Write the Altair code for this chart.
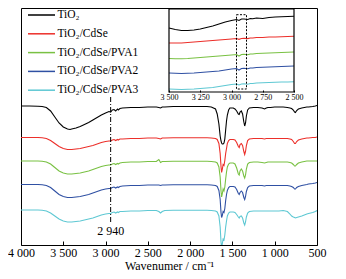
import altair as alt
import pandas as pd

# ---------------- main spectra ----------------
wavenumber = [
    4000, 3900, 3800, 3750, 3700, 3650, 3600, 3550, 3500, 3450,
    3420, 3400, 3350, 3300, 3250, 3200, 3150, 3100, 3050, 3000,
    2960, 2940, 2920, 2900, 2880, 2860, 2850, 2830, 2800, 2700,
    2600, 2500, 2400, 2370, 2350, 2330, 2300, 2200, 2100, 2000,
    1900, 1800, 1750, 1700, 1680, 1660, 1645, 1635, 1628, 1620,
    1610, 1600, 1590, 1580, 1570, 1560, 1545, 1530, 1510, 1490,
    1470, 1450, 1430, 1420, 1410, 1395, 1380, 1365, 1355, 1345,
    1335, 1320, 1300, 1250, 1200, 1150, 1120, 1100, 1080, 1050,
    1000, 950, 900, 850, 820, 800, 780, 765, 755, 740,
    720, 700, 680, 650, 620, 600, 550, 520, 500,
]

series_names = ["TiO₂", "TiO₂/CdSe", "TiO₂/CdSe/PVA1", "TiO₂/CdSe/PVA2", "TiO₂/CdSe/PVA3"]
series_colors = ["#000000", "#ec2f2a", "#79c143", "#2f50a3", "#5ec8d3"]
# vertical display offsets of the stacked spectra
offsets = [139, 107.5, 84, 60.5, 35]

# absorption depth below each spectrum's baseline
depth_tio2 = [
    0, 0, 0.3, 0.5, 1.5, 5, 11, 17, 21, 23,
    23.5, 23, 22, 20.5, 18.5, 16.5, 14, 11.5, 9, 7,
    5.5, 6, 4, 3.5, 5, 3, 4, 2.5, 2, 1.5,
    1.5, 1, 1, 1.5, 2, 1, 1, 0.5, 0.5, 0.5,
    0.5, 0.5, 1, 3, 8, 18, 30, 35, 37, 38,
    38, 37, 33, 24, 15, 9, 4, 2, 2, 2,
    3, 5, 8, 8.5, 6, 5, 8, 16, 20, 17,
    10, 4, 2, 1.5, 1.5, 2, 3, 2, 1.5, 1.5,
    1, 1, 1, 1.5, 2, 2.5, 4, 6, 6.5, 4.5,
    3, 2.5, 2, 1.5, 1, 1, 0.5, 0, -0.5,
]
depth_cdse = [
    0, 0, 0, 0.3, 1, 3, 6, 9, 11, 12,
    12, 12, 11.5, 11, 10, 9, 8, 6.5, 5, 4,
    3.5, 3.5, 2.5, 2, 3, 2, 2.5, 1.5, 1.5, 1,
    1, 0.5, 0.5, 1, 1.5, 0.5, 0.5, 0.3, 0.3, 0.3,
    0.3, 0.3, 0.5, 1, 2, 6, 16, 29, 35, 32,
    27, 28, 23, 16, 11, 6, 3, 2, 2, 2,
    2.5, 5, 9, 10, 7, 6, 8, 14, 17, 14,
    8, 3, 1.5, 1, 1, 1, 1.5, 1, 1, 1,
    1, 1, 1, 1, 1.5, 2, 4, 6, 6, 4,
    2.5, 2, 1.5, 1, 0.5, 0.5, 0, 0, -0.5,
]
depth_pva1 = [
    0, 0, 0, 0.3, 1, 3, 6.5, 10, 12, 13,
    13, 13, 12.5, 12, 11, 10, 8.5, 7, 5.5, 4.5,
    4, 4, 3, 2.5, 3.5, 2.5, 3, 2, 1.5, 1,
    1, 0.5, 0.5, -1.5, 1.5, 0.5, 0.5, 0.3, 0.3, 0.3,
    0.3, 0.3, 0.5, 1, 2, 6, 16, 30, 36, 33,
    28, 30, 26, 18, 11, 6, 3, 2, 2, 2,
    3, 7, 13, 14, 10, 8, 10, 15, 17, 14,
    8, 3, 1.5, 1, 1, 1.5, 2, 1.5, 1, 1,
    1, 1, 1, 1, 1.5, 2, 3.5, 5, 5, 3.5,
    2, 1.5, 1, 0.5, 0, 0, 0, 0, 0,
]
depth_pva2 = [
    0, 0, 0, 0.3, 1, 3, 6.5, 10, 12, 13,
    13, 13, 12.5, 12, 11, 10, 8.5, 7, 5.5, 4.5,
    4, 4, 3, 2.5, 3.5, 2.5, 3, 2, 1.5, 1,
    1, 0.5, 0.5, 0.5, 1, 0.5, 0.5, 0.3, 0.3, 0.3,
    0.3, 0.3, 0.5, 1, 2, 6, 15, 28, 33, 31,
    27, 28, 24, 16, 10, 6, 3, 2, 2, 2,
    2.5, 5, 9, 10, 8, 6.5, 8, 13, 15, 12,
    7, 3, 1.5, 1, 1, 1, 1.5, 1, 1, 1,
    1, 1, 1, 1, 1.5, 2, 3, 4.5, 4.5, 3,
    2, 1.5, 1, 0.5, 0, -0.5, -1, -1.5, -2,
]
depth_pva3 = [
    0, 0, 0, 0.3, 1, 3, 6, 9, 11, 12,
    12, 12, 11.5, 11, 10, 9, 8, 6.5, 5, 4,
    3.5, 3.5, 2.5, 2, 3, 2, 2.5, 1.5, 1.5, 1,
    1, 0.5, 0.5, 1.5, 3, 1.5, 0.5, 0.3, 0.3, 0.3,
    0.3, 0.3, 0.5, 1, 2, 6, 17, 32, 37, 34,
    29, 30, 25, 17, 11, 6, 3, 2, 2, 2,
    2.5, 4.5, 7, 8, 6.5, 6, 8, 13, 15, 12,
    7, 3, 1.5, 1, 1, 1, 1, 1, 1, 1,
    1, 1, 0.5, 1.5, 4, 6, 7, 7.5, 8, 7.5,
    7, 6.5, 6, 5, 4, 3.5, 2.5, 1.5, 0.5,
]
depths = [depth_tio2, depth_cdse, depth_pva1, depth_pva2, depth_pva3]

# ---------------- inset (3500-2500 cm-1) ----------------
inset_wavenumber = [3500, 3450, 3400, 3350, 3300, 3250, 3200, 3150, 3100, 3050,
                    3000, 2960, 2940, 2920, 2900, 2870, 2850, 2830, 2800, 2750,
                    2700, 2650, 2600, 2550, 2500]
inset_tio2 = [64, 62.5, 61.5, 61.5, 62, 63, 64.5, 66, 68, 70,
              71.5, 72.5, 71.5, 73, 73, 72.5, 73.5, 73.3, 74, 73.5,
              74.5, 75, 75.2, 75.5, 75.7]
inset_cdse = [49, 49, 49, 49.5, 50, 50.5, 51, 51.5, 52, 52.5,
              53, 53.5, 52.7, 53.5, 53.8, 53.4, 54, 54, 54.5, 54.5,
              55, 55, 55.3, 55.5, 55.7]
inset_pva1 = [33.5, 33.3, 33.2, 33.5, 34, 34.5, 35, 35.5, 36, 36.5,
              37, 37.5, 36, 37.5, 37.7, 37.2, 38, 38, 38.5, 38.7,
              39, 39.2, 39.5, 39.7, 40]
inset_pva2 = [19, 18.7, 18.5, 18.7, 19, 19.5, 20, 20.5, 21, 22,
              23, 23.5, 22, 23.5, 23.7, 23.2, 24, 24, 24.5, 24.7,
              25, 25.2, 25.5, 25.7, 26]
inset_pva3 = [3, 2.7, 2.5, 2.7, 3, 3.5, 4, 4.5, 5.5, 6.5,
              7.5, 8, 7, 8, 8.2, 7.8, 8.5, 8.5, 9, 9.2,
              9.5, 9.7, 10, 10, 10.2]
inset_series = [inset_tio2, inset_cdse, inset_pva1, inset_pva2, inset_pva3]

marker_wavenumber = [2940]
marker_label = ["2 940"]

# ---------------- build tables ----------------
rows = []
for name, off, dep in zip(series_names, offsets, depths):
    assert len(dep) == len(wavenumber), name
    for w, d in zip(wavenumber, dep):
        rows.append({"w": w, "v": off - d, "series": name})
main_df = pd.DataFrame(rows)

irows = []
for name, vals in zip(series_names, inset_series):
    assert len(vals) == len(inset_wavenumber), name
    for w, v in zip(inset_wavenumber, vals):
        irows.append({"wi": w, "vi": v, "series": name})
inset_df = pd.DataFrame(irows)

FONT = "Liberation Serif"
W, H = 296, 237
fmt = "replace(format(datum.value, ','), ',', ' ')"

xs = alt.Scale(domain=[500, 4000], reverse=True, nice=False, zero=False)
ys = alt.Scale(domain=[0, 237], nice=False, zero=False)

color = alt.Color(
    "series:N",
    scale=alt.Scale(domain=series_names, range=series_colors),
    legend=alt.Legend(
        orient="none", legendX=14.5, legendY=1, title=None,
        symbolType="M-2.7,0H2.7", symbolSize=100, symbolStrokeWidth=1.5,
        labelFont=FONT, labelFontSize=11.5, labelColor="black",
        labelOffset=10, rowPadding=6.8, padding=0, labelLimit=200,
    ),
)

lines = alt.Chart(main_df).mark_line(strokeWidth=1.1, clip=True).encode(
    x=alt.X("w:Q", scale=xs, axis=alt.Axis(
        values=list(range(500, 4001, 250)),
        labelExpr="datum.value % 500 == 0 ? " + fmt + " : ''",
        tickSize=4, offset=-4, domain=False, grid=False, ticks=True,
        tickColor="black", tickWidth=1,
        labelFont=FONT, labelFontSize=12, labelColor="black", labelPadding=2,
        labelOverlap=False, labelFlush=False,
        title="Wavenumer / cm⁻¹", titleFont=FONT, titleFontSize=12,
        titleFontWeight="normal", titleColor="black", titlePadding=2,
    )),
    y=alt.Y("v:Q", scale=ys, axis=None),
    color=color,
    order=alt.Order("w:Q"),
)

marker_df = pd.DataFrame({"w": marker_wavenumber, "v": [148], "v2": [22],
                          "vt": [14], "label": marker_label})
rule = alt.Chart(marker_df).mark_rule(color="black", strokeWidth=1,
                                      strokeDash=[5, 2, 1, 2]).encode(
    x=alt.X("w:Q", scale=xs), y=alt.Y("v:Q", scale=ys), y2="v2:Q")
label = alt.Chart(marker_df).mark_text(font=FONT, fontSize=12, color="black",
                                       baseline="middle", align="center").encode(
    x=alt.X("w:Q", scale=xs), y=alt.Y("vt:Q", scale=ys), text="label:N")

main = alt.layer(lines, rule, label)

# inset scales mapped into the upper-right part of the plot
ixs = alt.Scale(domain=[3500, 2500], range=[148, 273], nice=False, zero=False)
iys = alt.Scale(domain=[0, 83], range=[84, 1], nice=False, zero=False)

ilines = alt.Chart(inset_df).mark_line(strokeWidth=1.1).encode(
    x=alt.X("wi:Q", scale=ixs, axis=alt.Axis(
        orient="bottom", values=[3500, 3250, 3000, 2750, 2500],
        labelExpr=fmt, offset=-(H - 84) - 2, tickSize=2, domain=False,
        grid=False, tickColor="black", labelFont=FONT, labelFontSize=8,
        labelColor="black", labelPadding=1, labelOverlap=False,
        labelFlush=False, title=None)),
    y=alt.Y("vi:Q", scale=iys, axis=None),
    color=alt.Color("series:N", scale=alt.Scale(domain=series_names, range=series_colors), legend=None),
    order=alt.Order("wi:Q"),
)

frame_df = pd.DataFrame({"wi": [3500], "wi2": [2500], "vi": [0], "vi2": [83]})
iframe = alt.Chart(frame_df).mark_rect(fillOpacity=0, stroke="black", strokeWidth=1.2).encode(
    x=alt.X("wi:Q", scale=ixs), x2="wi2:Q", y=alt.Y("vi:Q", scale=iys), y2="vi2:Q")

box_df = pd.DataFrame({"wi": [2960], "wi2": [2880], "vi": [3], "vi2": [77.3]})
ibox = alt.Chart(box_df).mark_rect(fillOpacity=0, stroke="black", strokeWidth=1,
                                   strokeDash=[2, 1.5]).encode(
    x=alt.X("wi:Q", scale=ixs), x2="wi2:Q", y=alt.Y("vi:Q", scale=iys), y2="vi2:Q")

inset = alt.layer(ilines, iframe, ibox)

chart = alt.layer(main, inset).resolve_scale(x="independent", y="independent").properties(
    width=W, height=H,
    padding={"left": 13, "top": 0, "right": 21, "bottom": 32},
    autosize=alt.AutoSizeParams(type="none"),
).configure_view(stroke="black", strokeWidth=1)

chart.save("out.html", embed_options={"renderer": "svg", "actions": False})
